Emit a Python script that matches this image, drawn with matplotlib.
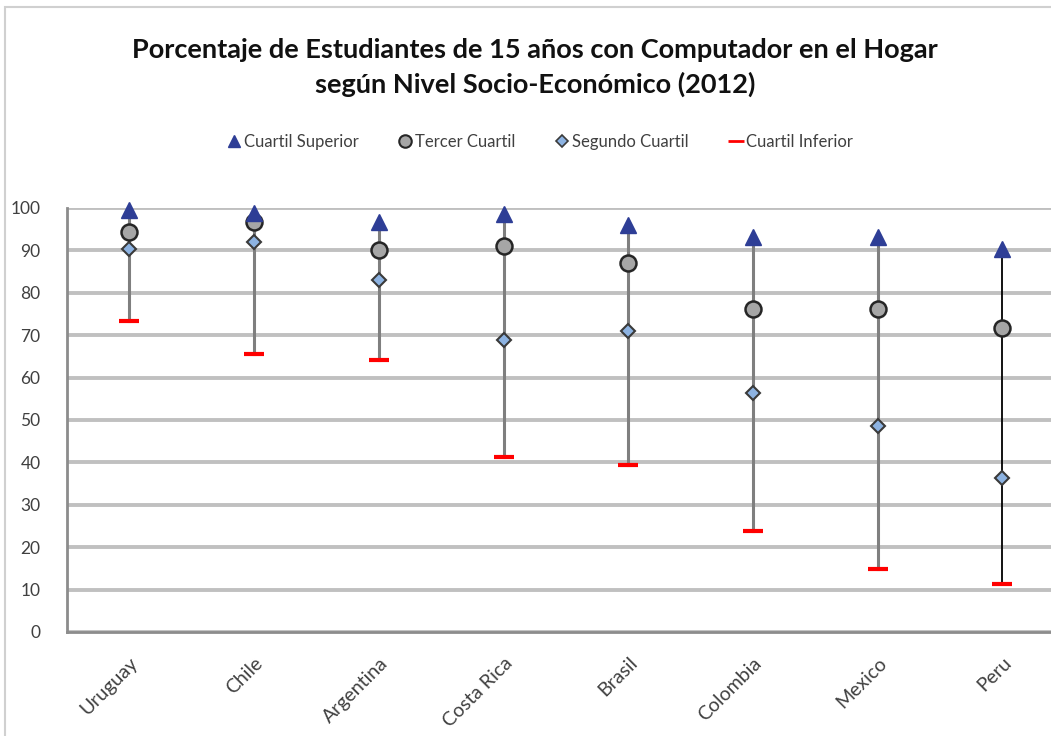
import matplotlib
matplotlib.use("Agg")
import matplotlib.pyplot as plt
from matplotlib.lines import Line2D
from matplotlib.patches import Rectangle

plt.rcParams['font.family'] = ['Lato', 'DejaVu Sans']

paises = ["Uruguay", "Chile", "Argentina", "Costa Rica", "Brasil", "Colombia", "Mexico", "Peru"]
cuartil_superior = [99.5, 98.8, 96.7, 98.6, 96.0, 93.2, 93.2, 90.3]
tercer_cuartil = [94.3, 96.7, 90.1, 91.0, 87.0, 76.2, 76.2, 71.7]
segundo_cuartil = [90.3, 92.0, 83.0, 68.9, 71.0, 56.4, 48.6, 36.3]
cuartil_inferior = [73.3, 65.6, 64.2, 41.3, 39.4, 23.8, 14.9, 11.3]
y_ticks = [0, 10, 20, 30, 40, 50, 60, 70, 80, 90, 100]

W, H = 1051, 736
fig = plt.figure(figsize=(W / 100, H / 100), dpi=100)

# outer chart frame
fig.patches.append(Rectangle((5 / W, -0.1), 1.2, (H - 7) / H + 0.1, transform=fig.transFigure,
                             fill=False, edgecolor='#d0d0d0', linewidth=1.5))

ax = fig.add_axes([67 / W, 104 / H, 1 - 67 / W + 0.001, 424 / H])
x = list(range(len(paises)))
ax.set_xlim(-0.5, (W - 67) / 124.6 - 0.5)
ax.set_ylim(0, 100)

for i in x:
    color = '#000000' if paises[i] == "Peru" else '#7f7f7f'
    lw = 1.3 if paises[i] == "Peru" else 2.2
    ax.plot([i, i], [cuartil_inferior[i], cuartil_superior[i]], color=color, lw=lw, zorder=3)

ax.plot(x, cuartil_inferior, linestyle='none', marker='_', markersize=15, markeredgewidth=3,
        color='#ff0000', zorder=4, clip_on=False)
ax.plot(x, segundo_cuartil, linestyle='none', marker='D', markersize=7.5,
        markerfacecolor='#8db3e2', markeredgecolor='#3a3a3a', markeredgewidth=1.5, zorder=5, clip_on=False)
ax.plot(x, tercer_cuartil, linestyle='none', marker='o', markersize=11.5,
        markerfacecolor='#a6a6a6', markeredgecolor='#262626', markeredgewidth=1.8, zorder=6, clip_on=False)
ax.plot(x, cuartil_superior, linestyle='none', marker='^', markersize=12,
        markerfacecolor='#2e3e96', markeredgecolor='#2e3e96', zorder=7, clip_on=False)

ax.set_yticks(y_ticks)
ax.set_yticklabels([str(v) for v in y_ticks])
ax.yaxis.grid(True, color='#c0c0c0', linewidth=2.8, zorder=0)
ax.set_axisbelow(True)
ax.tick_params(axis='y', length=0, pad=19, labelsize=12.5, labelcolor='#404040')
ax.tick_params(axis='x', length=0, pad=16, labelsize=14, labelcolor='#404040')
ax.set_xticks(x)
ax.set_xticklabels(paises, rotation=45, ha='right', rotation_mode='anchor')

for side in ['top', 'right']:
    ax.spines[side].set_visible(False)
for side in ['left', 'bottom']:
    ax.spines[side].set_color('#8c8c8c')
    ax.spines[side].set_linewidth(2)

fig.text(535 / W, 1 - 50 / H, "Porcentaje de Estudiantes de 15 años con Computador en el Hogar",
         ha='center', va='center', fontsize=19.5, fontweight='bold', color='#111111')
fig.text(535 / W, 1 - 84 / H, "según Nivel Socio-Económico (2012)",
         ha='center', va='center', fontsize=19.5, fontweight='bold', color='#111111')

handles = [
    Line2D([], [], linestyle='none', marker='^', markersize=8, markerfacecolor='#2e3e96',
           markeredgecolor='#2e3e96', label='Cuartil Superior'),
    Line2D([], [], linestyle='none', marker='o', markersize=9, markerfacecolor='#a6a6a6',
           markeredgecolor='#262626', markeredgewidth=1.5, label='Tercer Cuartil'),
    Line2D([], [], linestyle='none', marker='D', markersize=6, markerfacecolor='#8db3e2',
           markeredgecolor='#3a3a3a', markeredgewidth=1.2, label='Segundo Cuartil'),
    Line2D([], [], linestyle='none', marker='_', markersize=11, markeredgewidth=2,
           color='#ff0000', label='Cuartil Inferior'),
]
fig.legend(handles=handles, loc='center', bbox_to_anchor=(540 / W, 1 - 142 / H), ncol=4,
           frameon=False, fontsize=12, handlelength=0.8, handletextpad=0.2, columnspacing=2.4,
           labelcolor='#404040')

fig.savefig("out.png", dpi=100)
